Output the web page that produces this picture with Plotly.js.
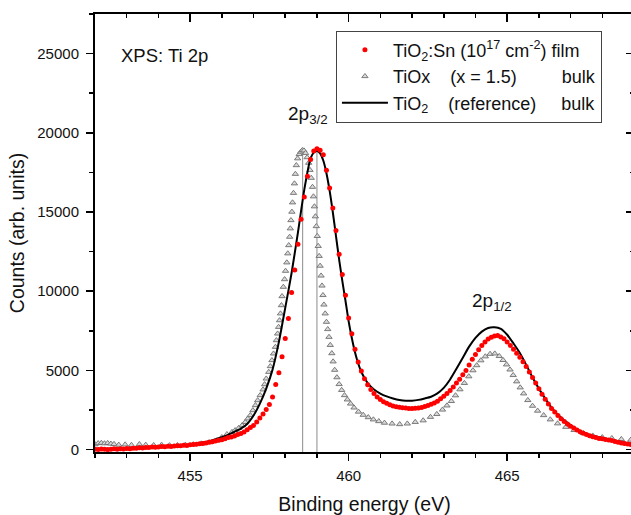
<!DOCTYPE html>
<html>
<head>
<meta charset="utf-8">
<script src="https://cdn.plot.ly/plotly-3.0.1.min.js"></script>
<style>
html,body{margin:0;padding:0;background:#fff;overflow:hidden;width:631px;height:515px;}
#chart{width:634px;height:515px;}
</style>
</head>
<body>
<div id="chart"></div>
<script>
// ---- Data ----
// TiO2:Sn (1e17 cm^-2) film : sampled every 0.1 eV starting at 452.0 eV
const filmStart = 452.0;
const filmStep = 0.1;
const filmCounts = [
  30, 10, 40, 20, 0, 30, 50, 20, 60, 40,
  70, 60, 90, 80, 120, 110, 140, 130, 160, 150,
  170, 190, 180, 210, 200, 230, 250, 240, 270, 260,
  300, 320, 340, 370, 390, 420, 460, 500, 550, 590,
  630, 690, 760, 800, 860, 950, 1010, 1110, 1260, 1390,
  1530, 1740, 1990, 2250, 2530, 2850, 3320, 4110, 4850, 5870,
  7010, 8270, 9920, 11340, 12960, 14540, 15950, 17250, 18310, 18850,
  19000, 18900, 18620, 17630, 16520, 15250, 13840, 12330, 11050, 9750,
  8310, 7320, 6330, 5530, 4960, 4480, 4100, 3790, 3540, 3320,
  3160, 3020, 2920, 2830, 2760, 2710, 2670, 2640, 2620, 2600,
  2590, 2610, 2630, 2660, 2720, 2790, 2860, 2950, 3060, 3210,
  3370, 3550, 3740, 3960, 4200, 4440, 4720, 5000, 5350, 5700,
  6000, 6300, 6580, 6800, 6980, 7100, 7180, 7200, 7110, 7000,
  6800, 6580, 6330, 6080, 5830, 5550, 5250, 4900, 4550, 4200,
  3850, 3500, 3180, 2880, 2600, 2380, 2150, 1950, 1780, 1620,
  1480, 1360, 1240, 1130, 1040, 960, 880, 820, 760, 710,
  680, 640, 610, 580, 520, 470, 420, 380, 350, 330,
  310
];

// TiOx (x = 1.5) bulk
const tioxEnergy = [
  452.0, 452.1, 452.2, 452.3, 452.4, 452.5, 452.6, 452.75, 452.95, 453.15,
  453.4, 453.6, 453.85, 454.1, 454.35, 454.6, 454.85, 455.1, 455.35, 455.6,
  455.85, 456.0, 456.16, 456.32, 456.42, 456.53, 456.64, 456.74, 456.82, 456.9,
  456.98, 457.06, 457.13, 457.21, 457.3, 457.35, 457.4, 457.48, 457.53, 457.58,
  457.63, 457.69, 457.72, 457.76, 457.79, 457.82, 457.85, 457.88, 457.9, 457.94,
  457.98, 458.01, 458.05, 458.08, 458.11, 458.14, 458.16, 458.18, 458.21, 458.23,
  458.26, 458.29, 458.32, 458.35, 458.39, 458.44, 458.49, 458.54, 458.59, 458.64,
  458.69, 458.74, 458.78, 458.82, 458.86, 458.89, 458.92, 458.95, 458.98, 459.01,
  459.04, 459.07, 459.1, 459.13, 459.16, 459.19, 459.22, 459.26, 459.3, 459.34,
  459.38, 459.42, 459.47, 459.51, 459.56, 459.63, 459.7, 459.78, 459.87, 459.96,
  460.06, 460.17, 460.31, 460.46, 460.62, 460.78, 460.95, 461.13, 461.37, 461.61,
  461.85, 462.1, 462.35, 462.58, 462.78, 462.96, 463.1, 463.24, 463.37, 463.51,
  463.65, 463.79, 463.92, 464.04, 464.17, 464.31, 464.46, 464.61, 464.75, 464.87,
  464.98, 465.09, 465.19, 465.3, 465.41, 465.52, 465.65, 465.8, 465.96, 466.15,
  466.36, 466.59, 466.85, 467.11, 467.4, 467.7, 468.0, 468.3, 468.6, 468.9
];
const tioxCounts = [
  330, 400, 420, 390, 410, 370, 350, 300, 320, 290,
  340, 300, 280, 300, 270, 280, 300, 330, 380, 460,
  580, 780, 970, 1110, 1220, 1360, 1530, 1740, 1960, 2170,
  2480, 2800, 3110, 3430, 3790, 4120, 4480, 4900, 5260, 5640,
  6060, 6480, 6900, 7320, 7740, 8160, 8590, 9110, 9680, 10270,
  10750, 11280, 11810, 12380, 12900, 13430, 13960, 14480, 15010, 15600,
  16200, 16800, 17400, 17950, 18380, 18650, 18800, 18900, 18880, 18720,
  18450, 18100, 17650, 17150, 16580, 15980, 15350, 14720, 14100, 13480,
  12850, 12220, 11600, 10980, 10350, 9750, 9150, 8590, 8060, 7600,
  7110, 6600, 6080, 5560, 5030, 4560, 4130, 3760, 3430, 3160,
  2900, 2650, 2390, 2190, 2040, 1900, 1790, 1690, 1640, 1600,
  1640, 1740, 1840, 2060, 2240, 2520, 2780, 3060, 3420, 3800,
  4200, 4620, 5000, 5320, 5630, 5880, 6040, 6060, 5900, 5650,
  5370, 5050, 4700, 4300, 3920, 3540, 3120, 2760, 2450, 2170,
  1900, 1650, 1430, 1230, 1040, 880, 780, 720, 660, 620
];

// TiO2 (reference) bulk
const refEnergy = [
  452.0, 452.5, 453.0, 453.5, 454.0, 454.5, 455.0, 455.3, 455.6, 455.9,
  456.1, 456.4, 456.6, 456.8, 457.0, 457.2, 457.4, 457.6, 457.8, 458.0,
  458.2, 458.4, 458.6, 458.8, 458.9, 459.0, 459.1, 459.2, 459.3, 459.4,
  459.5, 459.6, 459.7, 459.8, 459.9, 460.0, 460.1, 460.2, 460.3, 460.4,
  460.6, 460.8, 461.0, 461.2, 461.4, 461.6, 461.8, 462.0, 462.2, 462.4,
  462.6, 462.8, 463.0, 463.2, 463.4, 463.6, 463.8, 464.0, 464.2, 464.4,
  464.6, 464.8, 465.0, 465.2, 465.4, 465.6, 465.8, 466.0, 466.2, 466.4,
  466.6, 466.8, 467.0, 467.2, 467.4, 467.6, 467.8, 468.0, 468.2, 468.4,
  468.6, 468.8, 469.0
];
const refCounts = [
  60, 40, 70, 100, 150, 210, 300, 410, 530, 720,
  850, 1130, 1330, 1620, 2150, 2900, 3850, 5050, 6800, 8950,
  11150, 13700, 16400, 18400, 18750, 18850, 18700, 18250, 17450, 16350,
  15000, 13500, 12000, 10650, 9400, 8100, 7050, 6150, 5450, 4900,
  4200, 3800, 3540, 3360, 3230, 3130, 3080, 3090, 3140, 3230,
  3340, 3550, 3900, 4430, 5100, 5800, 6500, 7050, 7450, 7680,
  7720, 7620, 7250, 6700, 6100, 5350, 4550, 3850, 3220, 2650,
  2200, 1850, 1550, 1280, 1080, 930, 830, 740, 650, 580,
  480, 410, 360
];

// Peak-position marker lines (TiOx peak, film peak)
const peakLineEnergy = [458.55, 459.0];
const peakLineTop = [18850, 19000];
const peakLineBottom = [-150, -150];

// ---- Chart ----
const FONT = '"Liberation Sans", Arial, Helvetica, sans-serif';
const NB = '\u00a0';
const traces = [];

for (let i = 0; i < peakLineEnergy.length; i++) {
  traces.push({
    x: [peakLineEnergy[i], peakLineEnergy[i]],
    y: [peakLineBottom[i], peakLineTop[i]],
    mode: 'lines', line: {color: '#8c8c8c', width: 1},
    showlegend: false, hoverinfo: 'skip'
  });
}

traces.push({
  x: tioxEnergy, y: tioxCounts, mode: 'markers', type: 'scatter',
  name: 'TiOx' + NB.repeat(4) + '(x = 1.5)' + NB.repeat(9) + 'bulk',
  marker: {symbol: 'triangle-up', size: 5.5, color: '#d9d9d9', line: {color: '#6e6e6e', width: 0.9}},
  legendrank: 2, legendgroup: 'b'
});
traces.push({
  x: refEnergy, y: refCounts, mode: 'lines', type: 'scatter',
  name: 'TiO<sub>2</sub>' + NB.repeat(4) + '(reference)' + NB.repeat(5) + 'bulk',
  line: {color: '#000000', width: 2, shape: 'spline', smoothing: 0.6},
  legendrank: 3, legendgroup: 'c'
});
traces.push({
  x0: filmStart, dx: filmStep, y: filmCounts, mode: 'markers', type: 'scatter',
  name: 'TiO<sub>2</sub>:Sn (10<sup>17</sup> cm<sup>-2</sup>) film',
  marker: {symbol: 'circle', size: 5, color: '#ff0000'},
  legendrank: 1, legendgroup: 'a'
});
// empty trace that carries the mirrored top/right axes
traces.push({x: [], y: [], xaxis: 'x2', yaxis: 'y2', showlegend: false, hoverinfo: 'skip'});

const xRange = [452, 469];
const yRange = [-150, 27500];

const layout = {
  width: 634, height: 515,
  margin: {l: 95, r: 0, t: 14, b: 63},
  paper_bgcolor: '#ffffff', plot_bgcolor: '#ffffff',
  font: {family: FONT, color: '#222', size: 15},
  showlegend: true,
  legend: {
    x: 0.447, y: 0.962, xanchor: 'left', yanchor: 'top',
    bgcolor: '#ffffff', bordercolor: '#444', borderwidth: 1,
    font: {family: FONT, size: 18, color: '#111'},
    traceorder: 'normal', itemwidth: 46, tracegroupgap: 2
  },
  xaxis: {
    range: xRange, showgrid: false, zeroline: false,
    showline: true, linecolor: '#000', linewidth: 2,
    ticks: 'outside', ticklen: 7, tickwidth: 1.5, tickcolor: '#000',
    tick0: 455, dtick: 5, ticklabelstandoff: 2, tickformat: 'd',
    tickfont: {size: 15, color: '#111', family: FONT},
    minor: {dtick: 1, ticks: 'outside', ticklen: 4, tickwidth: 1.5, tickcolor: '#000'},
    title: {text: 'Binding energy (eV)', font: {size: 19.5, color: '#111', family: FONT}, standoff: 18}
  },
  yaxis: {
    range: yRange, showgrid: false, zeroline: false,
    showline: true, linecolor: '#000', linewidth: 2,
    ticks: 'outside', ticklen: 7, tickwidth: 1.5, tickcolor: '#000',
    tick0: 0, dtick: 5000, ticklabelstandoff: 4, tickformat: 'd',
    tickfont: {size: 15, color: '#111', family: FONT},
    minor: {dtick: 2500, ticks: 'outside', ticklen: 4, tickwidth: 1.5, tickcolor: '#000'},
    title: {text: 'Counts (arb. units)', font: {size: 19.5, color: '#111', family: FONT}, standoff: 7}
  },
  xaxis2: {
    range: xRange, overlaying: 'x', side: 'top', anchor: 'y2',
    showgrid: false, zeroline: false, showline: true, linecolor: '#000', linewidth: 2,
    ticks: 'inside', ticklen: 8, tickwidth: 1.5, tickcolor: '#000',
    tick0: 455, dtick: 5, showticklabels: false,
    minor: {dtick: 1, ticks: 'inside', ticklen: 4, tickwidth: 1.5, tickcolor: '#000'}
  },
  yaxis2: {
    range: yRange, overlaying: 'y', side: 'right', anchor: 'x2',
    showgrid: false, zeroline: false, showline: true, linecolor: '#000', linewidth: 2,
    ticks: 'inside', ticklen: 8, tickwidth: 1.5, tickcolor: '#000',
    tick0: 0, dtick: 5000, showticklabels: false,
    minor: {dtick: 2500, ticks: 'inside', ticklen: 4, tickwidth: 1.5, tickcolor: '#000'}
  },
  annotations: [
    {x: 452.76, y: 24900, xref: 'x', yref: 'y', xanchor: 'left', yanchor: 'middle',
     text: 'XPS: Ti 2p', showarrow: false, font: {size: 18.5, color: '#111', family: FONT}},
    {x: 458.02, y: 21150, xref: 'x', yref: 'y', xanchor: 'left', yanchor: 'middle',
     text: '2p<sub>3/2</sub>', showarrow: false, font: {size: 19, color: '#111', family: FONT}},
    {x: 463.82, y: 9350, xref: 'x', yref: 'y', xanchor: 'left', yanchor: 'middle',
     text: '2p<sub>1/2</sub>', showarrow: false, font: {size: 19, color: '#111', family: FONT}}
  ]
};

Plotly.newPlot('chart', traces, layout, {staticPlot: true, displayModeBar: false});
</script>
</body>
</html>
